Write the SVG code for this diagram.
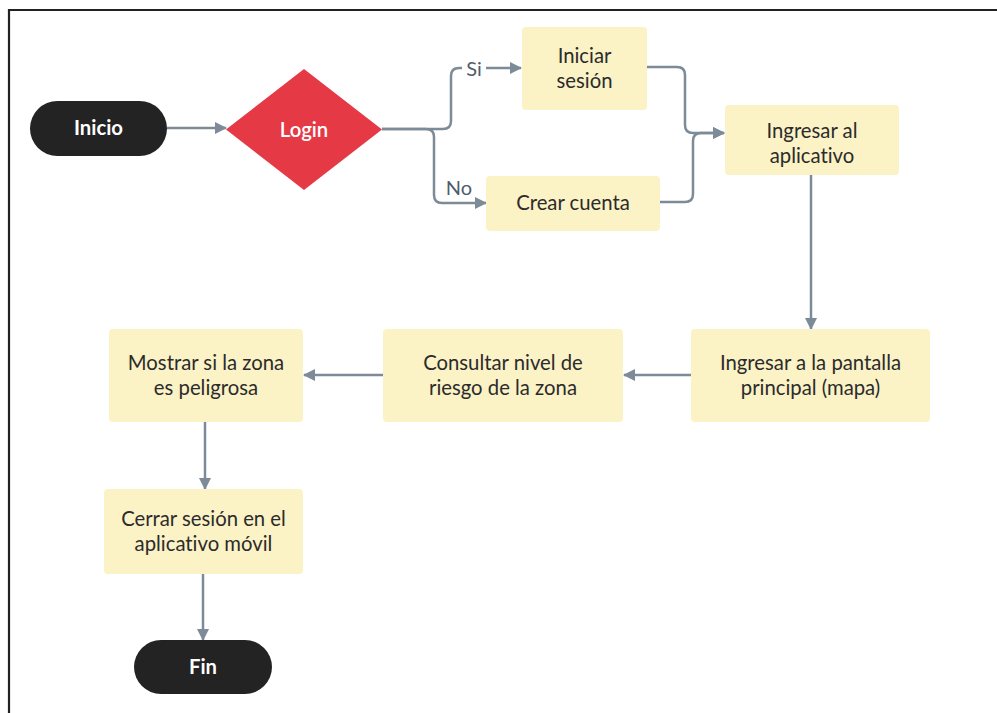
<svg xmlns="http://www.w3.org/2000/svg" width="997" height="713" viewBox="0 0 997 713">
<defs>
<marker id="arr" markerUnits="userSpaceOnUse" markerWidth="12" markerHeight="12" refX="11" refY="6" orient="auto">
<path d="M0,0 L12,6 L0,12 z" fill="#7d8b99"/>
</marker>
<style>
text{font-variant-ligatures:none;font-feature-settings:"liga" 0;}
.box{fill:#fbf2c6;}
.pill{fill:#232323;}
.t{font-family:"Source Sans Pro",Lato,"Noto Sans",sans-serif;font-size:20.3px;fill:#2b2b2b;text-anchor:middle;}
.w{font-family:"Source Sans Pro",Lato,"Noto Sans",sans-serif;font-size:20.3px;fill:#ffffff;text-anchor:middle;font-weight:bold;}
.lbl{font-family:"Source Sans Pro",Lato,"Noto Sans",sans-serif;font-size:20px;fill:#4f5d6b;text-anchor:middle;}
.c{fill:none;stroke:#7d8b99;stroke-width:2.5;}
</style>
</defs>
<rect width="997" height="713" fill="#ffffff"/>
<path d="M9,713 V10 H997" fill="none" stroke="#222" stroke-width="2.2"/>
<g id="connectors">
<path class="c" d="M167,128 H226" marker-end="url(#arr)"/>
<path class="c" d="M382,129 H443 Q451,129 451,121 V76 Q451,68 459,68 H521" marker-end="url(#arr)"/>
<path class="c" d="M382,129 H426 Q434,129 434,137 V195 Q434,203 442,203 H486" marker-end="url(#arr)"/>
<path class="c" d="M647,67 H677 Q685,67 685,75 V125 Q685,133 693,133 H724" marker-end="url(#arr)"/>
<path class="c" d="M660,202 H685 Q693,202 693,194 V141 Q693,133 701,133 H724" marker-end="url(#arr)"/>
<path class="c" d="M811,175 V329" marker-end="url(#arr)"/>
<path class="c" d="M691,375 H624" marker-end="url(#arr)"/>
<path class="c" d="M383,375 H304" marker-end="url(#arr)"/>
<path class="c" d="M205,422 V489" marker-end="url(#arr)"/>
<path class="c" d="M203,574 V640" marker-end="url(#arr)"/>
<rect x="462" y="57" width="24" height="22" fill="#ffffff"/>
<text class="lbl" x="474" y="76">Si</text>
<text class="lbl" x="459" y="195">No</text>
</g>
<g id="inicio">
<rect class="pill" x="30" y="101" width="137" height="55" rx="27.5"/>
<text class="w" x="98.5" y="135">Inicio</text>
</g>
<g id="login">
<polygon points="304,69 382,129.5 304,190 226,129.5" fill="#e63946"/>
<text class="w" x="304" y="136.5" style="font-weight:600">Login</text>
</g>
<g id="iniciar">
<rect class="box" x="522" y="27" width="125" height="83" rx="4"/>
<text class="t" x="584.5" y="63">Iniciar</text>
<text class="t" x="584.5" y="88">sesión</text>
</g>
<g id="crear">
<rect class="box" x="486" y="176" width="174" height="55" rx="4"/>
<text class="t" x="573" y="210">Crear cuenta</text>
</g>
<g id="ingresar">
<rect class="box" x="725" y="105" width="174" height="70" rx="4"/>
<text class="t" x="812" y="138">Ingresar al</text>
<text class="t" x="812" y="163">aplicativo</text>
</g>
<g id="pantalla">
<rect class="box" x="691" y="329" width="239" height="93" rx="4"/>
<text class="t" x="810.5" y="370">Ingresar a la pantalla</text>
<text class="t" x="810.5" y="395">principal (mapa)</text>
</g>
<g id="consultar">
<rect class="box" x="383" y="329" width="240" height="93" rx="4"/>
<text class="t" x="503" y="370">Consultar nivel de</text>
<text class="t" x="503" y="395">riesgo de la zona</text>
</g>
<g id="mostrar">
<rect class="box" x="109" y="329" width="194" height="93" rx="4"/>
<text class="t" x="206" y="370">Mostrar si la zona</text>
<text class="t" x="206" y="395">es peligrosa</text>
</g>
<g id="cerrar">
<rect class="box" x="104" y="489" width="199" height="85" rx="4"/>
<text class="t" x="203.5" y="526">Cerrar sesión en el</text>
<text class="t" x="203.5" y="551">aplicativo móvil</text>
</g>
<g id="fin">
<rect class="pill" x="134" y="640" width="138" height="54" rx="27"/>
<text class="w" x="203" y="674">Fin</text>
</g>
</svg>
